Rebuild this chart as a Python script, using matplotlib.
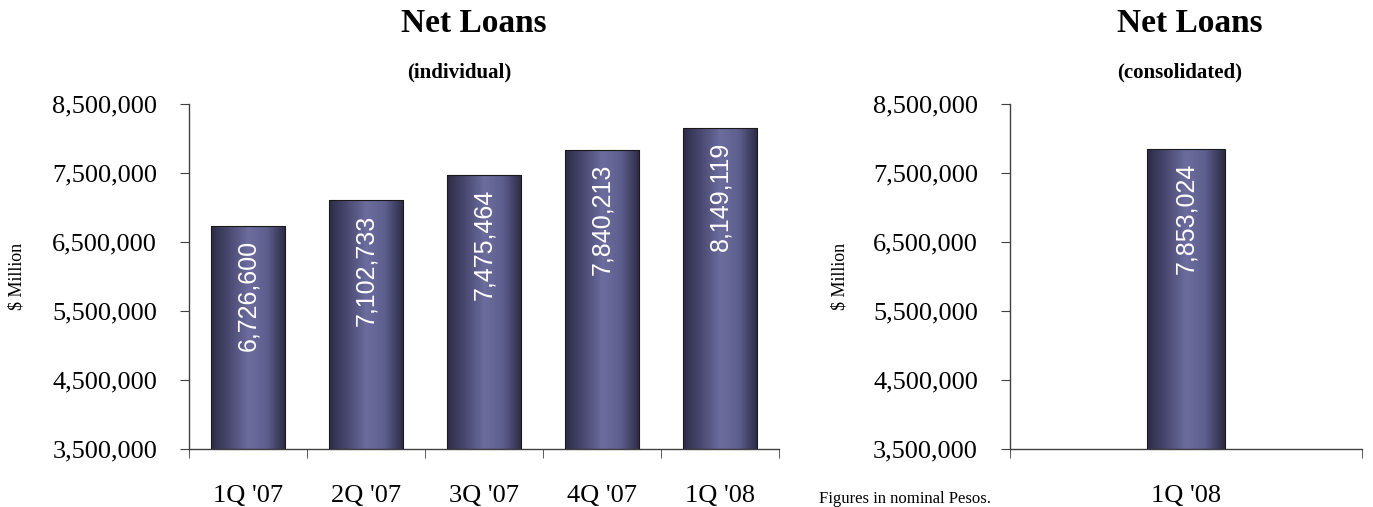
#!/usr/bin/env python3
"""Net loans bar charts: individual quarterly series and consolidated figure."""

import numpy as np
import matplotlib

matplotlib.use("Agg")
import matplotlib.pyplot as plt
from matplotlib.colors import LinearSegmentedColormap
from matplotlib.ticker import FuncFormatter

QUARTERS = ["1Q '07", "2Q '07", "3Q '07", "4Q '07", "1Q '08"]
INDIVIDUAL = [6726600, 7102733, 7475464, 7840213, 8149119]
CONSOLIDATED_QUARTERS = ["1Q '08"]
CONSOLIDATED = [7853024]

Y_MIN, Y_MAX, Y_STEP = 3500000, 8500000, 1000000

SERIF = ["Liberation Serif", "DejaVu Serif"]
LABEL_FONT = ["Liberation Sans", "DejaVu Sans"]

BAR_CMAP = LinearSegmentedColormap.from_list(
    "bar", ["#2c2c47", "#4a4a72", "#6c6c9e", "#5e5e8e", "#2a2a44"]
)


def gradient_bars(ax, bars):
    grad = np.linspace(0, 1, 256).reshape(1, -1)
    for bar in bars:
        x, y = bar.get_x(), bar.get_y()
        w, h = bar.get_width(), bar.get_height()
        img = ax.imshow(
            grad,
            cmap=BAR_CMAP,
            aspect="auto",
            extent=(x, x + w, y, y + h),
            origin="lower",
            zorder=bar.get_zorder() - 0.5,
            interpolation="bicubic",
        )
        img.set_clip_path(bar)
        bar.set_facecolor("none")


def draw_panel(ax, labels, values, bar_width, ylabel_x):
    x = np.arange(len(labels))
    bars = ax.bar(
        x, [v - Y_MIN for v in values], bottom=Y_MIN, width=bar_width,
        edgecolor="#1a1a1a", linewidth=0.8, zorder=3,
    )
    gradient_bars(ax, bars)

    for xi, v in zip(x, values):
        ax.annotate(
            f"{v:,.0f}", (xi, v), xytext=(0, -10), textcoords="offset points",
            rotation=90, ha="center", va="top", color="white",
            fontsize=18, family=LABEL_FONT, zorder=5,
        )

    ax.set_xlim(-0.5, len(labels) - 0.5)
    ax.set_ylim(Y_MIN, Y_MAX)
    ax.set_yticks(np.arange(Y_MIN, Y_MAX + 1, Y_STEP))
    ax.yaxis.set_major_formatter(FuncFormatter(lambda v, _: f"{v:,.0f}"))
    ax.set_xticks(x)
    ax.set_xticklabels(labels)
    ax.set_xticks(np.arange(-0.5, len(labels) + 0.5, 1.0), minor=True)
    ax.tick_params(axis="x", which="major", length=0, pad=26, labelsize=19)
    ax.tick_params(axis="x", which="minor", length=6.5, direction="out", color="#404040")
    ax.tick_params(axis="y", length=6.5, direction="out", pad=16.5, labelsize=19, color="#404040")
    for label in ax.get_xticklabels() + ax.get_yticklabels():
        label.set_family(SERIF)

    for side in ("top", "right"):
        ax.spines[side].set_visible(False)
    for side in ("left", "bottom"):
        ax.spines[side].set_color("#404040")
        ax.spines[side].set_linewidth(1.0)

    ax.set_ylabel("$ Million", family=SERIF, fontsize=13)
    ax.yaxis.set_label_coords(ylabel_x, 0.5)


fig = plt.figure(figsize=(13.73, 5.07), dpi=100)
ax_ind = fig.add_axes([0.1377, 0.1144, 0.4297, 0.6805])
ax_con = fig.add_axes([0.7356, 0.1144, 0.2564, 0.6805])

draw_panel(ax_ind, QUARTERS, INDIVIDUAL, 0.63, -0.278)
draw_panel(ax_con, CONSOLIDATED_QUARTERS, CONSOLIDATED, 0.22, -0.460)

# panel headings
for tx, sx, subtitle in ((0.3449, 0.3347, "(individual)"),
                         (0.8667, 0.8591, "(consolidated)")):
    fig.text(tx, 0.9546, "Net Loans", ha="center", va="center",
             fontsize=24, fontweight="bold", family=SERIF)
    fig.text(sx, 0.858, subtitle, ha="center", va="center",
             fontsize=15, fontweight="bold", family=SERIF)

fig.text(0.659, 0.016, "Figures in nominal Pesos.", ha="center", va="center",
         fontsize=12, family=SERIF)

fig.savefig("out.png", dpi=100)
